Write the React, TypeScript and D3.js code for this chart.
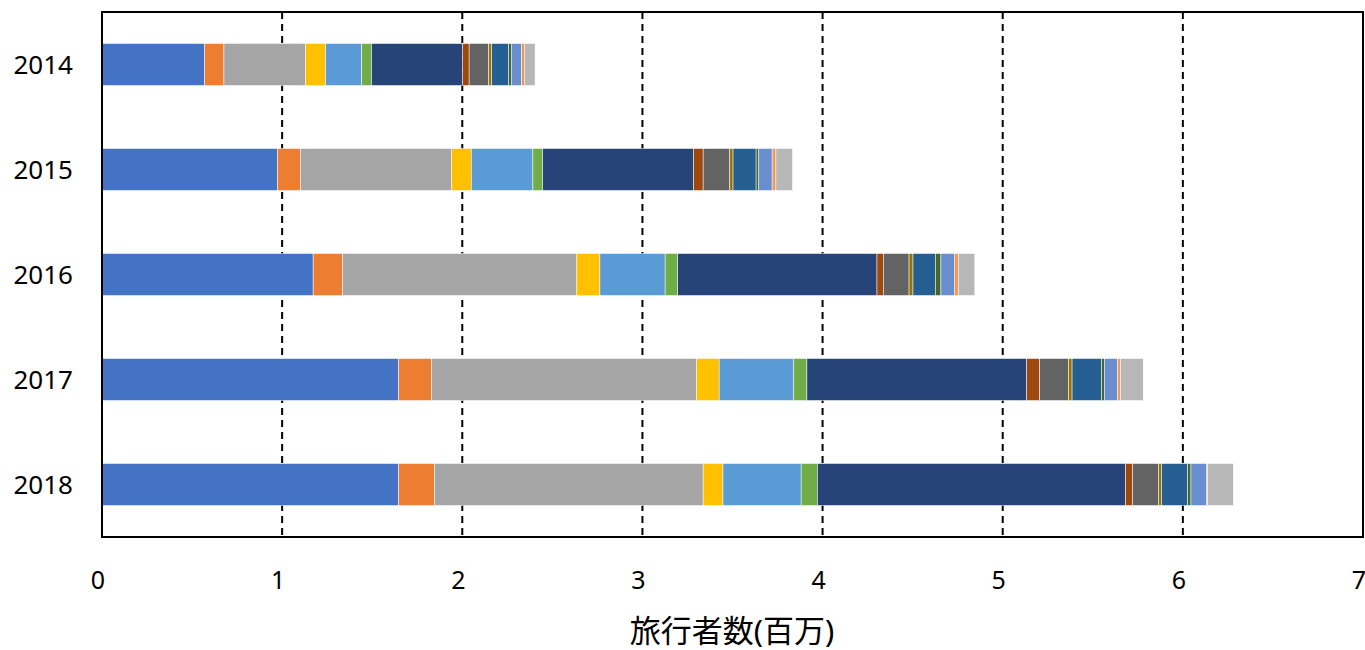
import { useRef, useEffect } from "react";
import * as d3 from "d3";

const years = ["2014", "2015", "2016", "2017", "2018"];

const seriesColors = [
	"#4472C4", "#ED7D31", "#A5A5A5", "#FFC000", "#5B9BD5",
	"#70AD47", "#264478", "#9E480E", "#636363", "#997300",
	"#255E91", "#43682B", "#698ED0", "#F1975A", "#B7B7B7",
];

// one array per year, 15 segments each (millions)
const v2014 = [0.57, 0.107, 0.454, 0.11, 0.201, 0.054, 0.506, 0.036, 0.109, 0.016, 0.094, 0.015, 0.057, 0.015, 0.06];
const v2015 = [0.974, 0.128, 0.838, 0.11, 0.342, 0.054, 0.838, 0.053, 0.148, 0.018, 0.128, 0.015, 0.074, 0.021, 0.092];
const v2016 = [1.172, 0.162, 1.302, 0.128, 0.362, 0.07, 1.106, 0.035, 0.143, 0.022, 0.124, 0.031, 0.074, 0.022, 0.092];
const v2017 = [1.647, 0.182, 1.472, 0.125, 0.413, 0.074, 1.22, 0.072, 0.161, 0.019, 0.164, 0.015, 0.074, 0.015, 0.127];
const v2018 = [1.647, 0.2, 1.49, 0.11, 0.434, 0.09, 1.711, 0.039, 0.144, 0.017, 0.144, 0.019, 0.088, 0.005, 0.142];

const xTicks = [0, 1, 2, 3, 4, 5, 6, 7];
const xTitle = "旅行者数(百万)";

export default function App() {
	const ref = useRef<HTMLDivElement>(null);

	useEffect(() => {
		document.body.style.margin = "0";
		const width = 1365;
		const height = 650;
		const margin = { top: 12, right: 2, bottom: 113, left: 102 };
		const font = "'Noto Sans', 'Noto Sans CJK JP', sans-serif";

		d3.select(ref.current).selectAll("*").remove();
		const svg = d3.select(ref.current).append("svg").attr("width", width).attr("height", height);

		const rows = [v2014, v2015, v2016, v2017, v2018];

		// ---- Scales ----
		const x = d3.scaleLinear().domain([0, 7]).range([margin.left, width - margin.right]);
		const y = d3
			.scaleBand()
			.domain(years)
			.range([margin.top, height - margin.bottom])
			.paddingInner(0.6)
			.paddingOuter(0.3);

		// ---- Gridlines ----
		svg.append("g")
			.selectAll("line")
			.data(xTicks.slice(1, -1))
			.enter()
			.append("line")
			.attr("x1", (d) => x(d))
			.attr("x2", (d) => x(d))
			.attr("y1", margin.top)
			.attr("y2", height - margin.bottom)
			.attr("stroke", "#000")
			.attr("stroke-width", 2)
			.attr("stroke-dasharray", "7,5");

		// ---- Stacked bars ----
		rows.forEach((vals, i) => {
			let acc = 0;
			const segs = vals.map((v, k) => {
				const s = { x0: acc, x1: acc + v, color: seriesColors[k] };
				acc += v;
				return s;
			});
			svg.append("g")
				.selectAll("rect")
				.data(segs)
				.enter()
				.append("rect")
				.attr("x", (d) => x(d.x0))
				.attr("width", (d) => x(d.x1) - x(d.x0))
				.attr("y", y(years[i])!)
				.attr("height", y.bandwidth())
				.attr("fill", (d) => d.color)
				.attr("stroke", "#fff")
				.attr("stroke-width", 0.5);
		});

		// ---- Frame ----
		svg.append("rect")
			.attr("x", margin.left)
			.attr("y", margin.top)
			.attr("width", width - margin.right - margin.left)
			.attr("height", height - margin.bottom - margin.top)
			.attr("fill", "none")
			.attr("stroke", "#000")
			.attr("stroke-width", 2);

		// ---- Axis labels ----
		svg.append("g")
			.selectAll("text")
			.data(xTicks)
			.enter()
			.append("text")
			.attr("x", (d) => x(d) - 4)
			.attr("y", 589)
			.attr("text-anchor", "middle")
			.style("font-family", font)
			.style("font-size", "25px")
			.text((d) => d);

		svg.append("g")
			.selectAll("text")
			.data(years)
			.enter()
			.append("text")
			.attr("x", 73)
			.attr("y", (d) => y(d)! + y.bandwidth() / 2 + 9)
			.attr("text-anchor", "end")
			.style("font-family", font)
			.style("font-size", "26px")
			.text((d) => d);

		svg.append("text")
			.attr("x", 732)
			.attr("y", 642)
			.attr("text-anchor", "middle")
			.style("font-family", font)
			.style("font-size", "31px")
			.text(xTitle);
	}, []);

	return <div ref={ref} />;
}
